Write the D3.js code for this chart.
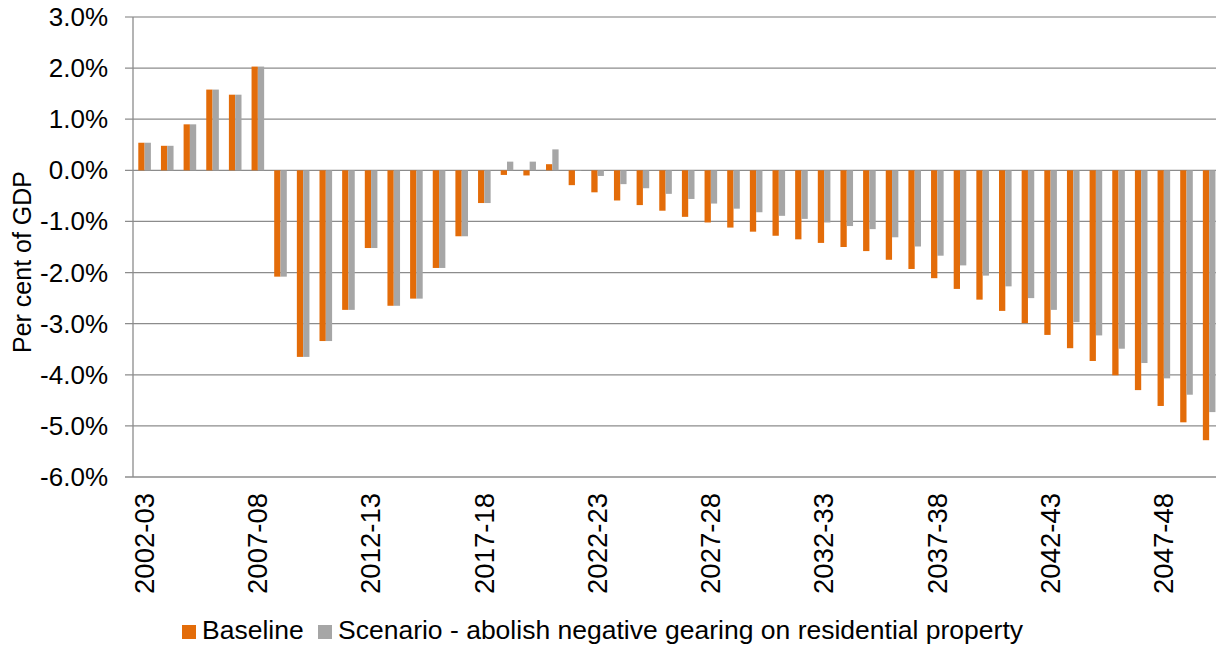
<!DOCTYPE html>
<html lang="en">
<head>
    <title>Baseline vs scenario - per cent of GDP</title>
    <script src="https://d3js.org/d3.v7.min.js"></script>
    <style>
        body { margin: 0; background: #fff; }
        svg text { font-family: "Liberation Sans", Arial, sans-serif; fill: #000; }
    </style>
</head>
<body>
<script>

// financial years on the x axis
var categories = ["2002-03","2003-04","2004-05","2005-06","2006-07","2007-08","2008-09","2009-10",
    "2010-11","2011-12","2012-13","2013-14","2014-15","2015-16","2016-17","2017-18","2018-19",
    "2019-20","2020-21","2021-22","2022-23","2023-24","2024-25","2025-26","2026-27","2027-28",
    "2028-29","2029-30","2030-31","2031-32","2032-33","2033-34","2034-35","2035-36","2036-37",
    "2037-38","2038-39","2039-40","2040-41","2041-42","2042-43","2043-44","2044-45","2045-46",
    "2046-47","2047-48","2048-49","2049-50"];

// per cent of GDP
var baseline = [0.54, 0.48, 0.90, 1.58, 1.48, 2.03, -2.08, -3.65, -3.34, -2.73, -1.52, -2.65,
    -2.51, -1.91, -1.29, -0.64, -0.09, -0.10, 0.12, -0.29, -0.43, -0.59, -0.68, -0.79, -0.91,
    -1.02, -1.12, -1.20, -1.28, -1.35, -1.42, -1.50, -1.58, -1.75, -1.93, -2.11, -2.32, -2.53,
    -2.75, -2.99, -3.22, -3.48, -3.73, -4.01, -4.30, -4.61, -4.93, -5.28];

var scenario = [0.54, 0.48, 0.90, 1.58, 1.48, 2.03, -2.08, -3.65, -3.34, -2.73, -1.52, -2.65,
    -2.51, -1.91, -1.29, -0.64, 0.17, 0.17, 0.41, -0.01, -0.11, -0.27, -0.35, -0.46, -0.56,
    -0.65, -0.75, -0.82, -0.89, -0.95, -1.02, -1.09, -1.15, -1.31, -1.49, -1.67, -1.86, -2.06,
    -2.27, -2.50, -2.73, -2.97, -3.23, -3.49, -3.77, -4.07, -4.39, -4.73];

var seriesNames = ["Baseline", "Scenario - abolish negative gearing on residential property"];
var seriesColors = ["#E36C09", "#A6A6A6"];
var yTicks = [3, 2, 1, 0, -1, -2, -3, -4, -5, -6];
var labelEvery = 5;

const width = 1216, height = 648;
const plotLeft = 133, plotTop = 17, plotBottom = 477;
const step = 22.65;

const svg = d3.select("body")
    .append("svg")
    .attr("width", width)
    .attr("height", height);

var x = d3.scaleBand()
    .domain(categories)
    .range([plotLeft, plotLeft + step * categories.length]);

// the two bars sit together in the middle of each band
var xInner = d3.scaleBand()
    .domain([0, 1])
    .range([5.3, 17.9]);

var y = d3.scaleLinear()
    .domain([-6, 3])
    .range([plotBottom, plotTop]);

// gridlines + tick marks
svg.append("g")
    .selectAll("line")
    .data(yTicks)
    .enter()
    .append("line")
    .attr("x1", plotLeft - 8)
    .attr("x2", width + 10)
    .attr("y1", d => y(d))
    .attr("y2", d => y(d))
    .attr("stroke", d => d == 3 ? "#a6a6a6" : "#8c8c8c")
    .attr("stroke-width", 1.3);

// y tick labels
svg.append("g")
    .selectAll("text")
    .data(yTicks)
    .enter()
    .append("text")
    .attr("x", 108)
    .attr("y", d => y(d) + 9)
    .attr("text-anchor", "end")
    .attr("font-size", 26)
    .text(d => d.toFixed(1) + "%");

// bars
var rows = categories.map((c, i) => ({ cat: c, vals: [baseline[i], scenario[i]] }));

var groups = svg.append("g")
    .selectAll("g")
    .data(rows)
    .enter()
    .append("g")
    .attr("transform", d => "translate(" + x(d.cat) + ",0)");

groups.selectAll("rect")
    .data(d => d.vals.map((v, k) => ({ k: k, v: v })))
    .enter()
    .append("rect")
    .attr("x", d => xInner(d.k))
    .attr("width", xInner.bandwidth())
    .attr("y", d => y(Math.max(0, d.v)))
    .attr("height", d => Math.abs(y(d.v) - y(0)))
    .attr("fill", d => seriesColors[d.k]);

// left axis line
svg.append("line")
    .attr("x1", plotLeft).attr("x2", plotLeft)
    .attr("y1", plotTop).attr("y2", plotBottom)
    .attr("stroke", "#8c8c8c")
    .attr("stroke-width", 1.3);

// x labels, rotated
svg.append("g")
    .selectAll("text")
    .data(categories.filter((c, i) => i % labelEvery == 0))
    .enter()
    .append("text")
    .attr("transform", d => "translate(" + (x(d) + x.bandwidth() / 2 + 9.5) + ",493) rotate(-90)")
    .attr("text-anchor", "end")
    .attr("font-size", 27.5)
    .text(d => d);

// y axis title
svg.append("text")
    .attr("transform", "translate(31,262) rotate(-90)")
    .attr("text-anchor", "middle")
    .attr("font-size", 25)
    .text("Per cent of GDP");

// legend
var legendX = [182, 318];
var legend = svg.append("g")
    .selectAll("g")
    .data(seriesNames)
    .enter()
    .append("g")
    .attr("transform", (d, i) => "translate(" + legendX[i] + ",625)");

legend.append("rect")
    .attr("width", 14)
    .attr("height", 14)
    .attr("fill", (d, i) => seriesColors[i]);

legend.append("text")
    .attr("x", 20)
    .attr("y", 14)
    .attr("font-size", 26.5)
    .text(d => d);

</script>
</body>
</html>
